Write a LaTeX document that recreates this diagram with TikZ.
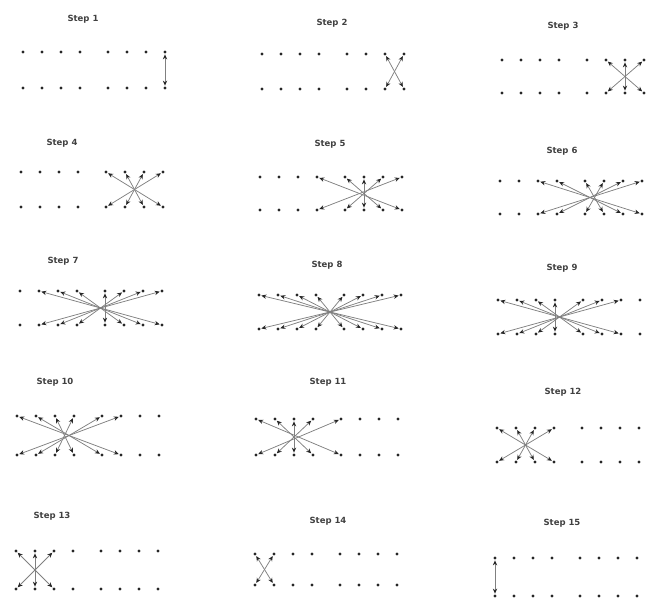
\documentclass[tikz,border=0pt]{standalone}
\usepackage{fontspec}
\setsansfont{DejaVu Sans}
\usetikzlibrary{
  arrows.meta % For arrow tips
}

\begin{document}
\begin{tikzpicture}[
      x=1pt, y=-1pt, % pixel-like units, y downwards
      dot/.style={circle, fill=black!85, inner sep=0pt, minimum size=3.4pt},
      conn/.style={draw=black!50, line width=0.75pt, shorten <=0.5pt, shorten >=0.5pt,
        {Stealth[black!85, length=5pt, width=4.4pt]}-{Stealth[black!85, length=5pt, width=4.4pt]}},
      steplabel/.style={font=\sffamily\bfseries\fontsize{8.5}{10}\selectfont, text=black!75, inner sep=0pt},
    ]
    \useasboundingbox (0,0) rectangle (651,598);

    % Panels: step / first dot x / top row y / row gap / label x / label y
    \foreach \k/\px/\py/\gap/\tx/\ty in {
        1/23/52/36/83/19, 2/262/54/35/332/23, 3/502/60/33/563/26,
        4/21/172/35/62/143, 5/260/177/33/330/144, 6/500/181/33/562/151,
        7/20/291/34/63/261, 8/259/295/34/327/265, 9/498/300/34/562/268,
        10/17/416/39/55/382, 11/256/419/36/328/382, 12/497/428/34/563/392,
        13/16/551/38/52/516, 14/255/554/31/328/521, 15/495/558/38/562/523}
    {
      % Titel
      \node[steplabel] (s\k) at (\tx,\ty) {Step \k};

      % Punkte: obere und untere Reihe
      \foreach \i/\dx in {1/0, 2/19, 3/38, 4/57, 5/85, 6/104, 7/123, 8/142}
      {
        \node[dot] (t\k-\i) at (\px+\dx,\py) {};
        \node[dot] (b\k-\i) at (\px+\dx,\py+\gap) {};
      }

      % Verbindungen: oben i <-> unten j mit i + j = 17 - k
      \foreach \i in {1,...,8}
      {
        \pgfmathtruncatemacro\j{17-\k-\i}
        \ifnum\j>0 \ifnum\j<9
          \draw[conn] (t\k-\i) -- (b\k-\j);
        \fi\fi
      }
    }
  \end{tikzpicture}
\end{document}
